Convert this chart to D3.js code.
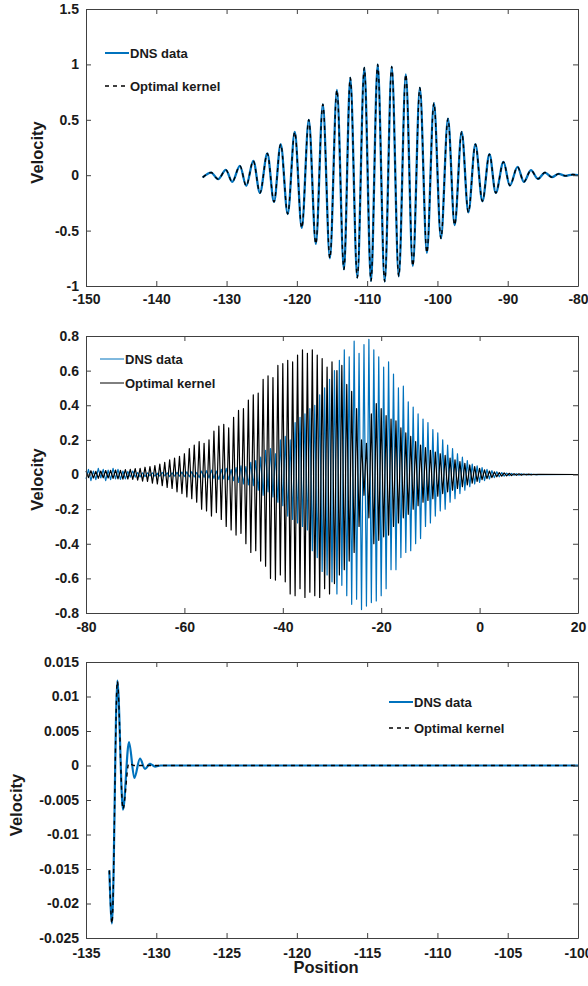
<!DOCTYPE html>
<meta charset="utf-8">
<script src="https://d3js.org/d3.v7.min.js"></script>
<style>
  body { margin: 0; background: white; }
  svg text { font-family: "Liberation Sans", Arial, sans-serif; font-weight: bold; fill: #1a1a1a; }
</style>
<div id="chart"></div>
<script>
// ---- panel 1 : wave packet, extrema
var dns1X = [-133.4, -132.2, -131.2, -130.1, -129.2, -128.1, -127.2, -126.2, -125.25, -124.2,
  -123.25, -122.3, -121.3, -120.3, -119.3, -118.3, -117.3, -116.3, -115.3, -114.3,
  -113.3, -112.4, -111.4, -110.4, -109.45, -108.5, -107.5, -106.5, -105.5, -104.5,
  -103.5, -102.5, -101.5, -100.5, -99.5, -98.5, -97.55, -96.55, -95.6, -94.6,
  -93.6, -92.6, -91.7, -90.6, -89.7, -88.6, -87.7, -86.7, -85.7, -84.7,
  -83.7, -82.75, -81.75, -80.75, -80];
var dns1V = [-0.02, 0.024, -0.036, 0.048, -0.06, 0.084, -0.096, 0.13, -0.16, 0.196,
  -0.24, 0.28, -0.35, 0.39, -0.476, 0.50, -0.62, 0.64, -0.75, 0.77,
  -0.85, 0.88, -0.925, 0.97, -0.955, 1.0, -0.96, 0.98, -0.913, 0.91,
  -0.82, 0.79, -0.70, 0.65, -0.57, 0.51, -0.45, 0.39, -0.335, 0.28,
  -0.235, 0.19, -0.16, 0.12, -0.093, 0.075, -0.06, 0.045, -0.033, 0.024,
  -0.018, 0.012, -0.006, 0.006, 0];
var kernel1V = dns1V; // kernel lies on top of the DNS curve

// ---- panel 2 : two dense packets sharing one sample grid
var grid2X = [-80,-79.5,-79,-78.5,-78,-77.5,-77,-76.5,-76,-75.5,
  -75,-74.5,-74,-73.5,-73,-72.5,-72,-71.5,-71,-70.5,
  -70,-69.5,-69,-68.5,-68,-67.5,-67,-66.5,-66,-65.5,
  -65,-64.5,-64,-63.5,-63,-62.5,-62,-61.5,-61,-60.5,
  -60,-59.5,-59,-58.5,-58,-57.5,-57,-56.5,-56,-55.5,
  -55,-54.5,-54,-53.5,-53,-52.5,-52,-51.5,-51,-50.5,
  -50,-49.5,-49,-48.5,-48,-47.5,-47,-46.5,-46,-45.5,
  -45,-44.5,-44,-43.5,-43,-42.5,-42,-41.5,-41,-40.5,
  -40,-39.5,-39,-38.5,-38,-37.5,-37,-36.5,-36,-35.5,
  -35,-34.5,-34,-33.5,-33,-32.5,-32,-31.5,-31,-30.5,
  -30,-29.5,-29,-28.5,-28,-27.5,-27,-26.5,-26,-25.5,
  -25,-24.5,-24,-23.5,-23,-22.5,-22,-21.5,-21,-20.5,
  -20,-19.5,-19,-18.5,-18,-17.5,-17,-16.5,-16,-15.5,
  -15,-14.5,-14,-13.5,-13,-12.5,-12,-11.5,-11,-10.5,
  -10,-9.5,-9,-8.5,-8,-7.5,-7,-6.5,-6,-5.5,
  -5,-4.5,-4,-3.5,-3,-2.5,-2,-1.5,-1,-0.5,
  0,0.5,1,1.5,2,2.5,3,3.5,4,4.5,
  5,5.5,6,6.5,7,7.5,8,8.5,9,9.5,
  10,10.5,11,11.5,12,20];
var dns2V = [-0.025,0.03,-0.035,0.02,-0.03,0.035,-0.02,0.03,-0.035,0.025,
  -0.03,0.035,-0.025,0.03,-0.028,0.02,-0.025,0.018,-0.015,0.02,
  -0.015,0.012,-0.014,0.01,-0.012,0.01,-0.008,0.01,-0.01,0.008,
  -0.01,0.012,-0.008,0.01,-0.012,0.01,-0.009,0.012,-0.01,0.014,
  -0.012,0.015,-0.013,0.016,-0.014,0.012,-0.018,0.02,-0.016,0.022,
  -0.02,0.025,-0.022,0.02,-0.028,0.03,-0.025,0.035,-0.03,0.028,
  -0.035,0.04,-0.045,0.05,-0.055,0.045,-0.06,0.07,-0.065,0.08,
  -0.09,0.1,-0.12,0.14,-0.1,0.15,-0.13,0.12,-0.16,0.2,
  -0.18,0.22,-0.24,0.2,-0.26,0.3,-0.28,0.33,-0.3,0.35,
  -0.32,0.38,-0.44,0.4,-0.48,0.46,-0.56,0.5,-0.58,0.55,
  -0.62,0.6,-0.69,0.66,-0.64,0.72,-0.7,0.68,-0.75,0.77,
  -0.72,0.7,-0.78,0.75,-0.76,0.78,-0.74,0.72,-0.73,0.68,
  -0.7,0.62,-0.66,0.65,-0.55,0.58,-0.55,0.5,-0.48,0.51,
  -0.45,0.42,-0.44,0.39,-0.4,0.35,-0.37,0.32,-0.3,0.3,
  -0.28,0.26,-0.24,0.24,-0.21,0.2,-0.2,0.17,-0.16,0.15,
  -0.14,0.12,-0.11,0.1,-0.09,0.08,-0.07,0.06,-0.055,0.05,
  -0.045,0.04,-0.035,0.03,-0.026,0.022,-0.018,0.016,-0.013,0.011,
  -0.009,0.008,-0.007,0.006,-0.005,0.0045,-0.004,0.0035,-0.003,0.0025,
  -0.002,0.0018,-0.0015,0.001,-0.001,0];
var kernel2V = [0.02,-0.018,0.022,-0.02,0.018,-0.022,0.02,-0.019,0.023,-0.02,
  0.024,-0.022,0.026,-0.025,0.024,-0.027,0.028,-0.026,0.03,-0.028,
  0.034,-0.032,0.036,-0.038,0.042,-0.04,0.046,-0.05,0.052,-0.055,
  0.06,-0.065,0.07,-0.075,0.085,-0.08,0.095,-0.1,0.105,-0.11,
  0.12,-0.13,0.15,-0.14,0.17,-0.16,0.19,-0.2,0.18,-0.21,
  0.2,-0.24,0.25,-0.22,0.28,-0.26,0.29,-0.3,0.27,-0.32,
  0.33,-0.35,0.37,-0.34,0.38,-0.4,0.43,-0.45,0.46,-0.44,
  0.47,-0.5,0.55,-0.53,0.57,-0.6,0.56,-0.61,0.63,-0.58,
  0.64,-0.62,0.66,-0.69,0.65,-0.7,0.69,-0.66,0.72,-0.71,
  0.7,-0.68,0.72,-0.7,0.69,-0.71,0.67,-0.66,0.62,-0.69,
  0.65,-0.63,0.6,-0.58,0.63,-0.55,0.52,-0.5,0.48,-0.45,
  0.38,-0.3,0.2,-0.12,0.18,-0.25,0.35,-0.4,0.41,-0.38,
  0.38,-0.36,0.34,-0.35,0.32,-0.3,0.31,-0.28,0.27,-0.25,
  0.24,-0.23,0.22,-0.2,0.19,-0.18,0.17,-0.16,0.155,-0.15,
  0.14,-0.14,0.13,-0.125,0.12,-0.11,0.11,-0.1,0.095,-0.09,
  0.085,-0.08,0.075,-0.07,0.065,-0.06,0.055,-0.05,0.045,-0.04,
  0.035,-0.03,0.027,-0.024,0.02,-0.018,0.015,-0.013,0.011,-0.01,
  0.009,-0.008,0.007,-0.006,0.005,-0.0045,0.004,-0.0035,0.003,-0.0025,
  0.002,-0.0018,0.0015,-0.001,0.001,0];

// ---- panel 3 : zoom on the leading edge
var dns3X = [-133.34, -133.15, -132.77, -132.37, -131.94, -131.56, -131.16, -130.8, -130.45, -130.09, -129.7, -100];
var dns3V = [-0.0152, -0.0229, 0.0123, -0.0064, 0.0034, -0.0018, 0.001, -0.0005, 0.00024, -0.00015, 0, 0];
var kernel3X = [-133.34, -133.15, -132.77, -132.37, -131.95, -131.6, -100];
var kernel3V = [-0.0152, -0.0229, 0.0122, -0.0063, 0.0003, 0, 0];

// ---- ticks
var x1Ticks = [-150, -140, -130, -120, -110, -100, -90, -80];
var y1Ticks = [-1, -0.5, 0, 0.5, 1, 1.5];
var y1Labels = ["-1", "-0.5", "0", "0.5", "1", "1.5"];
var x2Ticks = [-80, -60, -40, -20, 0, 20];
var y2Ticks = [-0.8, -0.6, -0.4, -0.2, 0, 0.2, 0.4, 0.6, 0.8];
var y2Labels = ["-0.8", "-0.6", "-0.4", "-0.2", "0", "0.2", "0.4", "0.6", "0.8"];
var x3Ticks = [-135, -130, -125, -120, -115, -110, -105, -100];
var y3Ticks = [-0.025, -0.02, -0.015, -0.01, -0.005, 0, 0.005, 0.01, 0.015];
var y3Labels = ["-0.025", "-0.02", "-0.015", "-0.01", "-0.005", "0", "0.005", "0.01", "0.015"];

var blue = "#0072BD";
var left = 86, right = 578;

var svg = d3.select("#chart").append("svg")
  .attr("width", 588)
  .attr("height", 986);

function zip(xs, vs) { return xs.map(function(d, i) { return [d, vs[i]]; }); }

function panel(o) {
  var x = d3.scaleLinear().domain(o.xDomain).range([left, right]);
  var y = d3.scaleLinear().domain(o.yDomain).range([o.bottom, o.top]);
  var g = svg.append("g");

  o.series.forEach(function(s) {
    var line = d3.line()
      .x(function(d) { return x(d[0]); })
      .y(function(d) { return y(d[1]); })
      .curve(s.curve);
    g.append("path")
      .datum(s.data)
      .attr("d", line)
      .attr("fill", "none")
      .attr("stroke", s.color)
      .attr("stroke-width", s.width)
      .attr("stroke-linejoin", "round")
      .attr("stroke-dasharray", s.dash || null);
  });

  var fmtY = function(d) { return o.yLabels[o.yTicks.indexOf(d)]; };
  var fmtX = function(d) { return String(d); };

  var axes = [
    g.append("g").attr("transform", "translate(0," + o.bottom + ")")
      .call(d3.axisBottom(x).tickValues(o.xTicks).tickFormat(fmtX).tickSizeInner(-5).tickSizeOuter(0).tickPadding(o.xPad)),
    g.append("g").attr("transform", "translate(0," + o.top + ")")
      .call(d3.axisTop(x).tickValues(o.xTicks).tickFormat("").tickSizeInner(-5).tickSizeOuter(0)),
    g.append("g").attr("transform", "translate(" + left + ",0)")
      .call(d3.axisLeft(y).tickValues(o.yTicks).tickFormat(fmtY).tickSizeInner(-5).tickSizeOuter(0).tickPadding(7)),
    g.append("g").attr("transform", "translate(" + right + ",0)")
      .call(d3.axisRight(y).tickValues(o.yTicks).tickFormat("").tickSizeInner(-5).tickSizeOuter(0))
  ];
  axes.forEach(function(a) {
    a.selectAll(".domain, .tick line").attr("stroke", "#404040");
    a.selectAll("text").style("font-size", "14px").attr("fill", "#1a1a1a");
  });

  g.append("text")
    .attr("transform", "translate(" + o.ylabX + "," + ((o.top + o.bottom) / 2 + 5) + ") rotate(-90)")
    .attr("text-anchor", "middle")
    .attr("dy", "0.35em")
    .style("font-size", "16.5px")
    .text("Velocity");

  // legend
  o.series.forEach(function(s, i) {
    var ly = o.legY[i];
    g.append("line")
      .attr("x1", o.legX).attr("x2", o.legX + 24)
      .attr("y1", ly).attr("y2", ly)
      .attr("stroke", s.color)
      .attr("stroke-width", s.legWidth)
      .attr("stroke-dasharray", s.dash || null);
    g.append("text")
      .attr("x", o.legX + 25)
      .attr("y", ly)
      .attr("dy", "0.35em")
      .style("font-size", "13px")
      .text(s.name);
  });
}

panel({
  top: 9, bottom: 286, xDomain: [-150, -80], yDomain: [-1, 1.5],
  xTicks: x1Ticks, yTicks: y1Ticks, yLabels: y1Labels, ylabX: 37, xPad: 8,
  legX: 105, legY: [53, 86],
  series: [
    { name: "DNS data", data: zip(dns1X, dns1V), color: blue, width: 2.3, legWidth: 2, curve: d3.curveMonotoneX },
    { name: "Optimal kernel", data: zip(dns1X, kernel1V), color: "#000", width: 1.4, legWidth: 1.6, dash: "4,4", curve: d3.curveMonotoneX }
  ]
});

panel({
  top: 336, bottom: 613, xDomain: [-80, 20], yDomain: [-0.8, 0.8],
  xTicks: x2Ticks, yTicks: y2Ticks, yLabels: y2Labels, ylabX: 37, xPad: 9,
  legX: 100, legY: [359, 383],
  series: [
    { name: "DNS data", data: zip(grid2X, dns2V), color: blue, width: 1.2, legWidth: 1, curve: d3.curveLinear },
    { name: "Optimal kernel", data: zip(grid2X, kernel2V), color: "#000", width: 1.2, legWidth: 1, curve: d3.curveLinear }
  ]
});

panel({
  top: 662, bottom: 938, xDomain: [-135, -100], yDomain: [-0.025, 0.015],
  xTicks: x3Ticks, yTicks: y3Ticks, yLabels: y3Labels, ylabX: 16, xPad: 10,
  legX: 389, legY: [702, 728],
  series: [
    { name: "DNS data", data: zip(dns3X, dns3V), color: blue, width: 2.2, legWidth: 2, curve: d3.curveMonotoneX },
    { name: "Optimal kernel", data: zip(kernel3X, kernel3V), color: "#000", width: 1.4, legWidth: 1.6, dash: "4,4", curve: d3.curveMonotoneX }
  ]
});

svg.append("text")
  .attr("x", 326)
  .attr("y", 973)
  .attr("text-anchor", "middle")
  .style("font-size", "16.5px")
  .text("Position");
</script>
